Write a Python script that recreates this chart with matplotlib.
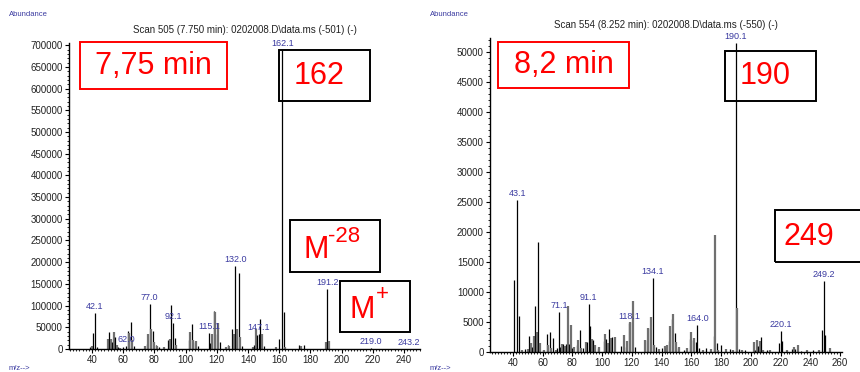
import numpy as np
import matplotlib
matplotlib.use("Agg")
import matplotlib.pyplot as plt
from matplotlib.patches import Rectangle
from matplotlib.ticker import MultipleLocator

plt.rcParams['font.family'] = ['Liberation Sans', 'DejaVu Sans']

# scan 505 (7.75 min)
mz_a = [39, 40, 41, 42, 43, 50, 51, 52, 53, 54, 55, 56, 57, 58, 60, 62, 63, 64, 65, 66, 67,
        74, 75, 76, 77, 78, 79, 80, 81, 82, 83, 86, 89, 90, 91, 92, 93, 94,
        102, 103, 104, 105, 106, 107, 108, 115, 116, 117, 118, 119, 120, 121, 122,
        126, 127, 128, 130, 131, 132, 133, 134, 135, 136, 143, 144, 145, 146, 147, 148, 149, 150,
        158, 160, 162, 163, 164, 173, 174, 176, 190, 191, 192, 219, 243]
ab_a = [5000, 8000, 38000, 83000, 5000, 22000, 39000, 22000, 15000, 40000, 27000, 10000, 5000, 3000, 5000, 8000, 41000, 38000, 63000, 20000, 8000,
        8000, 12000, 35000, 103000, 45000, 41000, 15000, 10000, 7000, 5000, 5000, 20000, 22000, 102000, 60000, 25000, 10000,
        20000, 40000, 58000, 20000, 15000, 18000, 8000, 37000, 13000, 35000, 87000, 85000, 35000, 60000, 15000,
        5000, 10000, 8000, 45000, 35000, 192000, 47000, 175000, 27000, 8000, 5000, 10000, 45000, 32000, 35000, 70000, 35000, 7000,
        5000, 22000, 690000, 85000, 5000, 10000, 8000, 10000, 17000, 138000, 18000, 2000, 1000]
labels_a = ["42.1", "62.0", "77.0", "92.1", "115.1", "132.0", "147.1", "162.1", "191.2", "219.0", "243.2"]

# scan 554 (8.2 min)
mz_b = [41, 43, 44, 46, 48, 50, 51, 52, 53, 54, 55, 56, 57, 58, 60, 61, 63, 64, 65, 66, 67, 69, 70,
        71, 72, 73, 74, 75, 76, 77, 78, 79, 80, 81, 83, 84, 85, 86, 87, 89, 90, 91, 92, 93, 94, 95, 97, 98,
        101, 102, 103, 104, 105, 106, 107, 109, 113, 115, 116, 117, 118, 119, 120, 121, 122,
        129, 130, 131, 132, 133, 134, 135, 136, 138, 140, 142, 143, 144, 145, 146, 147, 148, 149, 150, 151, 152,
        155, 157, 159, 160, 161, 162, 163, 164, 165, 168, 170, 173, 175, 176, 177, 178, 180, 183, 186, 188,
        190, 191, 192, 194, 196, 202, 203, 204, 205, 206, 207, 208, 211, 213, 219, 220, 221, 224,
        228, 229, 230, 232, 234, 238, 242, 246, 248, 249, 250, 253]
ab_b = [12000, 25400, 6000, 400, 500, 500, 2600, 1500, 900, 2600, 7600, 3400, 18300, 1500, 300, 400, 3000, 1200, 3400, 700, 2300, 400, 700,
        6600, 800, 1400, 1300, 1000, 1300, 7600, 1300, 4500, 700, 800, 1100, 2000, 3600, 700, 600, 1700, 1700, 8000, 4400, 2100, 2000, 1100, 700, 900,
        1800, 3000, 2100, 1500, 3800, 2400, 2500, 2500, 1000, 2800, 900, 1800, 4800, 5000, 5000, 8500, 900,
        2000, 2000, 4000, 4000, 5800, 12300, 1200, 800, 500, 600, 1000, 600, 1200, 1800, 4300, 5500, 6300, 3100, 1600, 700, 800,
        300, 700, 2100, 3400, 2000, 2400, 1700, 4500, 600, 300, 600, 500, 2700, 19500, 1500, 400, 1100, 500, 500, 300,
        51500, 7400, 500, 300, 300, 1700, 300, 2000, 1000, 1800, 2500, 300, 300, 300, 1500, 3500, 1800, 300,
        500, 800, 500, 1200, 200, 400, 300, 300, 3700, 11800, 2900, 700]
labels_b = ["43.1", "71.1", "91.1", "118.1", "134.1", "164.0", "190.1", "220.1", "249.2"]

titles = ["Scan 505 (7.750 min): 0202008.D\\data.ms (-501) (-)",
          "Scan 554 (8.252 min): 0202008.D\\data.ms (-550) (-)"]

W, H = 860, 372
fig = plt.figure(figsize=(W / 100, H / 100), dpi=100)

def px(x0, y0, x1, y1):
    # pixel box (top-left origin) -> figure fraction rect
    return [x0 / W, 1 - y1 / H, (x1 - x0) / W, (y1 - y0) / H]

blue = '#3a3aa0'

def spectrum(rect, mz, ab, labels, title, xlim, ylim, ystep):
    ax = fig.add_axes(rect)
    big = [int(round(float(l))) for l in labels]
    cols, lws = [], []
    for i, m in enumerate(mz):
        if m in big or i % 2 == 0:
            cols.append('black'); lws.append(0.9)
        else:
            cols.append('#707070'); lws.append(1.6)
    ax.vlines(mz, 0, ab, colors=cols, linewidth=lws)
    lookup = dict(zip(mz, ab))
    for lab in labels:
        m = int(round(float(lab)))
        ax.text(m, lookup[m] + ylim[1] * 0.006, lab, color=blue, fontsize=6.5,
                ha='center', va='bottom')
    ax.set_xlim(*xlim)
    ax.set_ylim(*ylim)
    ax.xaxis.set_major_locator(MultipleLocator(20))
    ax.xaxis.set_minor_locator(MultipleLocator(2))
    ax.yaxis.set_major_locator(MultipleLocator(ystep))
    ax.yaxis.set_minor_locator(MultipleLocator(ystep / 5))
    for s in ['top', 'right']:
        ax.spines[s].set_visible(False)
    for s in ['left', 'bottom']:
        ax.spines[s].set_linewidth(1.0)
    ax.tick_params(which='major', length=3, width=0.8, labelsize=7, pad=1.5, labelcolor='#222222')
    ax.tick_params(which='minor', length=1.5, width=0.6)
    ax.set_title(title, fontsize=7, color='#222222', pad=7)
    ax.patch.set_alpha(0)
    return ax

ax1 = spectrum(px(69, 43, 420, 349), mz_a, ab_a, labels_a, titles[0], (25.3, 250.3), (0, 705000), 50000)
ax2 = spectrum(px(490, 38, 842, 352), mz_b, ab_b, labels_b, titles[1], (24.7, 261.3), (0, 52300), 5000)

for x in [9, 430]:
    fig.text(x / W, 1 - 15 / H, "Abundance", color=blue, fontsize=5.5, va='center')
    fig.text(x / W, 1 - 368 / H, "m/z-->", color=blue, fontsize=5.5, va='center')

def box(x0, y0, x1, y1, edge, txt, tx, ty, sup=None):
    fig.add_artist(Rectangle((x0 / W, 1 - y1 / H), (x1 - x0) / W, (y1 - y0) / H,
                             transform=fig.transFigure, fill=False, edgecolor=edge,
                             linewidth=1.4, clip_on=False))
    fig.text(tx / W, 1 - ty / H, txt, color='red', fontsize=22, ha='center', va='center')
    if sup is not None:
        fig.text(sup[1] / W, 1 - sup[2] / H, sup[0], color='red', fontsize=16,
                 ha='left', va='center')

box(80, 42, 227, 89, 'red', "7,75 min", 153, 66)
box(279, 50, 370, 101, 'black', "162", 319, 76)
box(290, 220, 380, 272, 'black', "M", 316, 250, ("-28", 328, 237))
box(340, 281, 410, 332, 'black', "M", 362, 310, ("+", 376, 295))
box(498, 42, 629, 88, 'red', "8,2 min", 564, 65)
box(725, 51, 816, 101, 'black', "190", 765, 76)
box(775, 210, 864, 262, 'black', "249", 809, 237)

fig.savefig("out.png", dpi=100)
